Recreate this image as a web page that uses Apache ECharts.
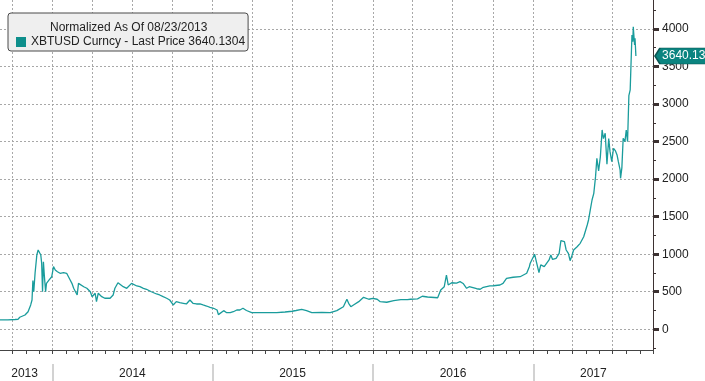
<!DOCTYPE html>
<html><head><meta charset="utf-8">
<script src="https://cdn.jsdelivr.net/npm/echarts@6/dist/echarts.min.js"></script>
<style>html,body{margin:0;padding:0;background:#fff}#c{width:705px;height:381px}</style>
</head><body><div id="c"></div>
<script>
const seriesName = 'XBTUSD Curncy - Last Price 3640.1304';
const headerText = 'Normalized As Of 08/23/2013';
const lastPrice = 3640.1304;
const dates = ['2013-09-03','2013-09-21','2013-10-07','2013-10-14','2013-10-18','2013-10-30','2013-11-06','2013-11-12','2013-11-15','2013-11-17','2013-11-19','2013-11-22','2013-11-26','2013-11-29','2013-12-01','2013-12-05','2013-12-07','2013-12-09','2013-12-11','2013-12-13','2013-12-16','2013-12-18','2013-12-24','2013-12-30',
'2014-01-03','2014-01-07','2014-01-12','2014-01-18','2014-01-26','2014-02-02','2014-02-06','2014-02-10','2014-02-14','2014-02-18','2014-02-22','2014-02-26','2014-03-01','2014-03-05','2014-03-13','2014-03-20','2014-03-28','2014-04-01','2014-04-08','2014-04-11','2014-04-15','2014-04-23','2014-04-30','2014-05-12','2014-05-19','2014-05-23','2014-05-30','2014-06-03','2014-06-11','2014-06-19','2014-06-30','2014-07-04','2014-07-12','2014-07-19','2014-07-27','2014-08-03','2014-08-14','2014-08-18','2014-08-26','2014-09-02','2014-09-10','2014-09-18','2014-09-25','2014-10-03','2014-10-10','2014-10-18','2014-10-26','2014-11-02','2014-11-10','2014-11-14','2014-11-17','2014-11-25','2014-12-03','2014-12-10','2014-12-18','2014-12-26',
'2015-01-03','2015-01-11','2015-01-14','2015-01-18','2015-01-26','2015-02-02','2015-02-10','2015-02-17','2015-02-25','2015-03-04','2015-03-11','2015-03-19','2015-03-31','2015-04-11','2015-05-01','2015-05-27','2015-06-15','2015-07-01','2015-07-10','2015-07-23','2015-08-03','2015-08-15','2015-09-07','2015-09-26','2015-10-11','2015-10-26','2015-11-03','2015-11-07','2015-11-12','2015-11-18','2015-11-30','2015-12-11','2015-12-23',
'2016-01-01','2016-01-11','2016-01-18','2016-02-02','2016-02-18','2016-03-05','2016-03-20','2016-03-27','2016-04-12','2016-04-23','2016-05-05','2016-05-28','2016-06-04','2016-06-12','2016-06-17','2016-06-21','2016-06-29','2016-07-10','2016-07-18','2016-07-25','2016-08-02','2016-08-08','2016-08-25','2016-09-02','2016-09-09','2016-09-24','2016-10-02','2016-10-17','2016-10-24','2016-11-01','2016-11-16','2016-12-02','2016-12-06','2016-12-17','2016-12-23','2016-12-25',
'2017-01-04','2017-01-08','2017-01-14','2017-01-18','2017-01-26','2017-02-06','2017-02-10','2017-02-14','2017-02-22','2017-03-01','2017-03-05','2017-03-13','2017-03-17','2017-03-22','2017-03-26','2017-03-30','2017-04-03','2017-04-11','2017-04-18','2017-04-26','2017-05-04','2017-05-07','2017-05-11','2017-05-15','2017-05-19','2017-05-23','2017-05-26','2017-05-30','2017-06-03','2017-06-07','2017-06-10','2017-06-14','2017-06-18','2017-06-22','2017-06-25','2017-06-29','2017-07-03','2017-07-07','2017-07-11','2017-07-14','2017-07-18','2017-07-19','2017-07-22','2017-07-25','2017-07-29','2017-08-01','2017-08-04','2017-08-07','2017-08-10','2017-08-14','2017-08-16','2017-08-17','2017-08-20','2017-08-21','2017-08-23'];
const prices = [124,126,130,132,160,190,234,324,390,650,500,750,990,1056,1033,990,879,500,900,723,500,612,657,700,
834,790,767,746,754,746,723,657,612,546,567,457,612,620,567,546,500,434,480,368,480,434,413,413,457,546,620,612,567,546,612,590,577,567,546,533,500,480,470,457,434,413,390,324,368,354,346,337,390,368,346,337,337,324,310,293,
280,257,195,213,248,221,221,234,257,257,280,250,221,221,221,221,230,240,250,266,248,221,225,221,248,301,400,346,301,324,368,426,400,
413,400,368,360,381,395,395,400,405,440,430,420,523,567,723,590,620,615,634,610,546,567,540,533,559,577,580,590,612,679,693,700,723,746,834,879,
1000,900,754,857,834,923,990,930,945,1012,1180,1167,1056,1012,914,980,1056,1100,1145,1233,1389,1456,1589,1722,1811,2033,2278,2110,2300,2655,2540,2611,2200,2540,2366,2233,2411,2380,2322,2233,2122,2011,2150,2544,2500,2655,2500,3112,3189,3920,3830,4030,3786,3876,3640.1304];
const yTickValues = [0,500,1000,1500,2000,2500,3000,3500,4000];
const yMinorValues = [-250,250,750,1250,1750,2250,2750,3250,3750,4250];
const quarterLines = ['2013-10-01','2014-01-01','2014-04-01','2014-07-01','2014-10-01','2015-01-01','2015-04-01','2015-07-01','2015-10-01','2016-01-01','2016-04-01','2016-07-01','2016-10-01','2017-01-01','2017-04-01','2017-07-01'];
const yearStarts = ['2014-01-01','2015-01-01','2016-01-01','2017-01-01'];
const yearLabelAt = ['2013-10-29','2014-07-02','2015-07-02','2016-07-02','2017-05-18'];
const xMin = '2013-09-03', xMax = '2017-10-01';
const yMin = -276, yMax = 4386;

const monthTicks = [];
for (let y = 2013; y <= 2017; y++) for (let m = 1; m <= 12; m++) {
  const s = y + '-' + String(m).padStart(2,'0') + '-01';
  if (s >= '2013-10-01' && s <= '2017-10-01') monthTicks.push(s);
}
const ts = function(s){ return Date.parse(s + 'T00:00:00Z'); };

const FONT = 'Liberation Sans';
const chart = echarts.init(document.getElementById('c'), null, {renderer:'canvas'});
const axisDark = '#3d3232';
const gridStyle = function(){ return {color:'#a8a8a8', type:[2,2], width:1}; };
const xBase = {type:'value', min:ts(xMin), max:ts(xMax), gridIndex:0};
chart.setOption({
  animation:false,
  backgroundColor:'#ffffff',
  textStyle:{fontFamily:FONT},
  grid:{left:0, top:0, right:52, bottom:31, containLabel:false},
  title:{text:headerText, left:50, top:22, padding:0, textStyle:{fontFamily:FONT, fontSize:12, fontWeight:'normal', color:'#222'}},
  legend:{data:[seriesName], left:8, top:13, padding:[23,3,3,8], itemWidth:10, itemHeight:10, itemGap:5, icon:'rect',
    backgroundColor:'#efefef', borderColor:'#4a4a4a', borderWidth:1, borderRadius:3,
    textStyle:{fontFamily:FONT, fontSize:12, color:'#222'}},
  xAxis:[
    Object.assign({}, xBase, {position:'bottom',
      axisLine:{show:true, onZero:false, lineStyle:{color:'#444', width:1}},
      axisTick:{show:true, customValues:monthTicks.map(ts), length:4, lineStyle:{color:'#444'}},
      axisLabel:{show:false}, splitLine:{show:false}}),
    Object.assign({}, xBase, {position:'bottom', offset:14,
      axisLine:{show:false, onZero:false},
      axisTick:{show:true, customValues:yearStarts.map(ts), length:18, lineStyle:{color:'#c4c4c4', width:1.5}},
      axisLabel:{show:true, customValues:yearLabelAt.map(ts), margin:4, fontFamily:FONT, fontSize:12, color:'#222',
        formatter:function(v){return String(new Date(v).getUTCFullYear());}},
      splitLine:{show:false}})
  ],
  yAxis:[
    {type:'value', position:'right', min:yMin, max:yMax,
      axisLine:{show:true, onZero:false, lineStyle:{color:axisDark, width:1}},
      axisTick:{show:true, customValues:yTickValues, length:6, lineStyle:{color:axisDark, width:3}},
      axisLabel:{show:true, customValues:yTickValues, margin:9, fontFamily:FONT, fontSize:12, color:'#222',
        formatter:function(v){return String(v);}},
      splitLine:{show:true, lineStyle:gridStyle()}},
    {type:'value', position:'right', min:yMin, max:yMax,
      axisLine:{show:false, onZero:false},
      axisTick:{show:true, customValues:yMinorValues, length:3, lineStyle:{color:axisDark}},
      axisLabel:{show:false}, splitLine:{show:false}}
  ],
  series:[{
    name:seriesName, type:'line', xAxisIndex:0, yAxisIndex:0, z:3,
    data:dates.map(function(d,i){return [ts(d), prices[i]];}),
    showSymbol:false, symbol:'none', clip:true,
    lineStyle:{color:'#1a9c9c', width:1.3},
    itemStyle:{color:'#0e8f8c'},
    markLine:{silent:true, animation:false, symbol:['none','none'], z:1,
      lineStyle:gridStyle(), label:{show:false}, emphasis:{disabled:true},
      data:quarterLines.map(function(d){return {xAxis:ts(d)};})},
    markPoint:{silent:true, animation:false,
      data:[{coord:[ts(xMax), lastPrice], symbol:'path://M0,8 L5,0 L60,0 L60,16 L5,16 Z', symbolSize:[60,16], symbolKeepAspect:false,
        symbolOffset:[32,0],
        itemStyle:{color:'#0b8480', borderColor:'#0b5552', borderWidth:1},
        label:{show:true, position:[8,8], verticalAlign:'middle', align:'left', formatter:String(lastPrice), color:'#ffffff', fontFamily:FONT, fontSize:12}}]}
  }]
});
</script></body></html>
